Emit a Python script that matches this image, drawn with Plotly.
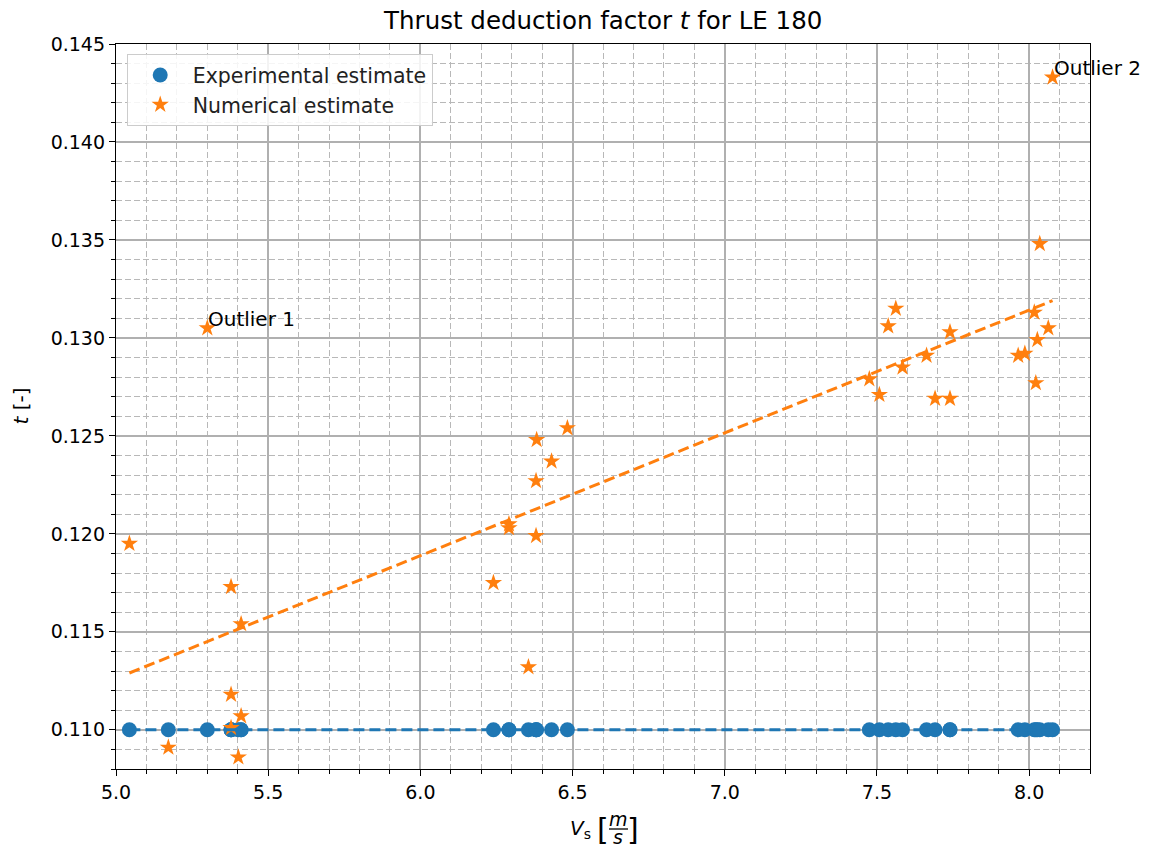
import plotly.graph_objects as go

# Ship speed [m/s] for each run (shared by both estimates)
vs = [5.044, 5.172, 5.300, 5.378, 5.378, 5.378, 5.402, 5.411, 5.411,
      6.240, 6.291, 6.291, 6.355, 6.380, 6.380, 6.382, 6.431, 6.483,
      7.475, 7.508, 7.537, 7.562, 7.584, 7.663, 7.691, 7.740, 7.740,
      7.964, 7.986, 8.017, 8.022, 8.027, 8.035, 8.063, 8.077]

# Thrust deduction factor from the model tests (constant)
t_exp = [0.110] * len(vs)

# Thrust deduction factor from the CFD runs
t_num = [0.1195, 0.1091, 0.1305, 0.1173, 0.1118, 0.1101, 0.1086, 0.1154, 0.1107,
         0.1175, 0.1205, 0.1203, 0.1132, 0.1227, 0.1199, 0.1248, 0.1237, 0.1254,
         0.1279, 0.1271, 0.1306, 0.1315, 0.1285, 0.1291, 0.1269, 0.1303, 0.1269,
         0.1291, 0.1292, 0.1313, 0.1277, 0.1299, 0.1348, 0.1305, 0.1433]

# Linear trends over the speed range
trend_vs = [5.044, 8.077]
trend_exp = [0.110, 0.110]
trend_num = [0.1129, 0.1319]

# Labelled outliers (speed, t, label)
outlier_vs = [5.300, 8.077]
outlier_t = [0.1305, 0.1433]
outlier_txt = ["Outlier 1", "Outlier 2"]

BLUE = "#1f77b4"
ORANGE = "#ff7f0e"
FONT = "DejaVu Sans"

fig = go.Figure()
fig.add_trace(go.Scatter(
    x=vs, y=t_exp, mode="markers", name="Experimental estimate",
    marker=dict(color=BLUE, size=15, symbol="circle", line=dict(width=0)),
))
fig.add_trace(go.Scatter(
    x=vs, y=t_num, mode="markers", name="Numerical estimate",
    marker=dict(color=ORANGE, size=13, symbol="star", line=dict(width=0)),
))
fig.add_trace(go.Scatter(
    x=trend_vs, y=trend_num, mode="lines", showlegend=False,
    line=dict(color=ORANGE, width=3, dash="11px,5px"),
))
fig.add_trace(go.Scatter(
    x=trend_vs, y=trend_exp, mode="lines", showlegend=False,
    line=dict(color=BLUE, width=3, dash="11px,5px"),
))

for xv, yv, txt in zip(outlier_vs, outlier_t, outlier_txt):
    fig.add_annotation(x=xv, y=yv, text=txt, showarrow=False,
                       xanchor="left", yanchor="bottom", yshift=-5, xshift=-1,
                       font=dict(family=FONT, size=20, color="#000"))

grid_major = "#b0b0b0"
grid_minor = "#b8b8b8"

axis_common = dict(
    showline=True, linecolor="#000", linewidth=1.3, mirror=True,
    ticks="outside", ticklen=6, tickwidth=1.3, tickcolor="#000",
    showgrid=True, gridcolor=grid_major, gridwidth=1.5,
    zeroline=False,
    tickfont=dict(family=FONT, size=19, color="#000"),
)

fig.update_xaxes(
    range=[5.0, 8.2], tick0=0, dtick=0.5, tickformat=".1f",
    minor=dict(dtick=0.1, tick0=0, ticks="outside", ticklen=3.5, tickcolor="#000",
               showgrid=True, gridcolor=grid_minor, gridwidth=1, griddash="6px,3px"),
    **axis_common,
)
fig.update_yaxes(
    range=[0.108, 0.145], tick0=0, dtick=0.005, tickformat=".3f",
    minor=dict(dtick=0.001, tick0=0, ticks="outside", ticklen=3.5, tickcolor="#000",
               showgrid=True, gridcolor=grid_minor, gridwidth=1, griddash="6px,3px"),
    **axis_common,
)

# Axis labels: t [-] on the left, V_s [m/s] with a stacked fraction below
label_font = dict(family=FONT, size=20, color="#000")
frac_font = dict(family=FONT, size=19, color="#000")
bracket_font = dict(family=FONT, size=30, color="#000")
fig.add_annotation(xref="paper", yref="paper", x=0, y=0.5, xshift=-96,
                   text="<i>t</i> [-]", textangle=-90, showarrow=False,
                   xanchor="center", yanchor="middle", font=label_font)
fig.add_annotation(xref="paper", yref="paper", x=0.5, y=0, xshift=-10, yshift=-60,
                   text="<i>V</i><sub>s</sub>", showarrow=False,
                   xanchor="right", yanchor="middle", font=label_font)
fig.add_annotation(xref="paper", yref="paper", x=0.5, y=0, xshift=0, yshift=-60,
                   text="[", showarrow=False, xanchor="center", yanchor="middle",
                   font=bracket_font)
fig.add_annotation(xref="paper", yref="paper", x=0.5, y=0, xshift=15, yshift=-50,
                   text="<i>m</i>", showarrow=False, xanchor="center", yanchor="middle",
                   font=frac_font)
fig.add_annotation(xref="paper", yref="paper", x=0.5, y=0, xshift=15, yshift=-68,
                   text="<i>s</i>", showarrow=False, xanchor="center", yanchor="middle",
                   font=frac_font)
fig.add_annotation(xref="paper", yref="paper", x=0.5, y=0, xshift=30, yshift=-60,
                   text="]", showarrow=False, xanchor="center", yanchor="middle",
                   font=bracket_font)
fig.add_shape(type="line", xref="paper", yref="paper",
              xsizemode="pixel", ysizemode="pixel", xanchor=0.5, yanchor=0,
              x0=6, x1=25, y0=-60, y1=-60, line=dict(color="#000", width=1.3))

fig.update_layout(
    width=1149, height=847,
    margin=dict(l=116, r=59, t=44, b=78),
    paper_bgcolor="white", plot_bgcolor="white",
    font=dict(family=FONT, size=20, color="#000"),
    title=dict(text="Thrust deduction factor <i>t</i> for LE 180",
               x=0.525, xanchor="center", y=0.976, yref="container", yanchor="middle",
               font=dict(family=FONT, size=24.5, color="#000")),
    legend=dict(x=0.011, y=0.986, xanchor="left", yanchor="top",
                bgcolor="rgba(255,255,255,0.85)", bordercolor="#cccccc", borderwidth=1,
                itemwidth=55,
                font=dict(family=FONT, size=20.5, color="#222"), tracegroupgap=0),
)

fig.write_html("out.html")
